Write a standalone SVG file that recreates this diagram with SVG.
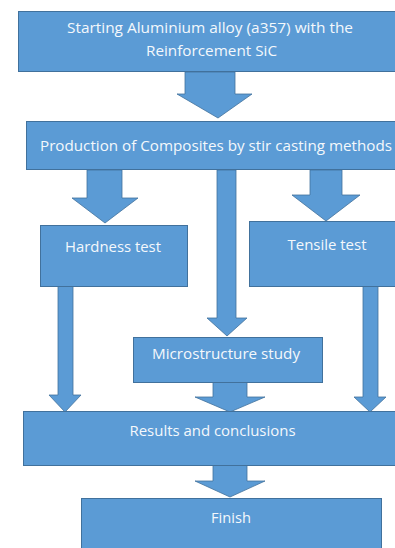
<svg xmlns="http://www.w3.org/2000/svg" width="395" height="548" viewBox="0 0 395 548">
<style>
.box{fill:#5B9BD5;stroke:#41719C;stroke-width:1}
.arr{fill:#5B9BD5;stroke:#41719C;stroke-width:0.8}
.t{font-family:"Open Sans","Liberation Sans",sans-serif;font-size:15px;fill:#F4F8FC;text-anchor:middle}
</style>
<rect width="395" height="548" fill="#FFFFFF"/>
<g id="connectors">
<polygon class="arr" points="185,72 235,72 235,94 252,94 218,118 177,94 185,94"/>
<polygon class="arr" points="87,170 122,170 122,198 138,198 105,223 72,198 87,198"/>
<polygon class="arr" points="217,170 236,170 236,318 247,318 227,336 207,318 217,318"/>
<polygon class="arr" points="310,170 342,170 342,195 360,195 326,221 292,195 310,195"/>
<polygon class="arr" points="58,286 73,286 73,395 81,395 65,412 49,395 58,395"/>
<polygon class="arr" points="213,382 247,382 247,397 265,397 230,412 195,397 213,397"/>
<polygon class="arr" points="363,286 378,286 378,397 386,397 370,412 354,397 363,397"/>
<polygon class="arr" points="213,465 247,465 247,481 265,481 230,497 195,481 213,481"/>
</g>
<g id="start">
<rect class="box" x="18.5" y="11.5" width="378" height="60"/>
<text class="t" x="210" y="33" textLength="286" lengthAdjust="spacingAndGlyphs">Starting Aluminium alloy (a357) with the</text>
<text class="t" x="211.5" y="56" textLength="131" lengthAdjust="spacingAndGlyphs">Reinforcement SiC</text>
</g>
<g id="production">
<rect class="box" x="26.5" y="121.5" width="370" height="48"/>
<text class="t" x="216" y="151" textLength="352" lengthAdjust="spacingAndGlyphs">Production of Composites by stir casting methods</text>
</g>
<g id="hardness">
<rect class="box" x="40.5" y="225.5" width="147" height="61"/>
<text class="t" x="113" y="252" textLength="96" lengthAdjust="spacingAndGlyphs">Hardness test</text>
</g>
<g id="tensile">
<rect class="box" x="249.5" y="221.5" width="147" height="65"/>
<text class="t" x="327" y="250" textLength="79" lengthAdjust="spacingAndGlyphs">Tensile test</text>
</g>
<g id="microstructure">
<rect class="box" x="133.5" y="337.5" width="189" height="45"/>
<text class="t" x="226" y="359" textLength="148" lengthAdjust="spacingAndGlyphs">Microstructure study</text>
</g>
<g id="results">
<rect class="box" x="23.5" y="411.5" width="373" height="54"/>
<text class="t" x="212.5" y="436" textLength="166" lengthAdjust="spacingAndGlyphs">Results and conclusions</text>
</g>
<g id="finish">
<rect class="box" x="81.5" y="498.5" width="300" height="52"/>
<text class="t" x="231" y="523" textLength="40" lengthAdjust="spacingAndGlyphs">Finish</text>
</g>
</svg>
